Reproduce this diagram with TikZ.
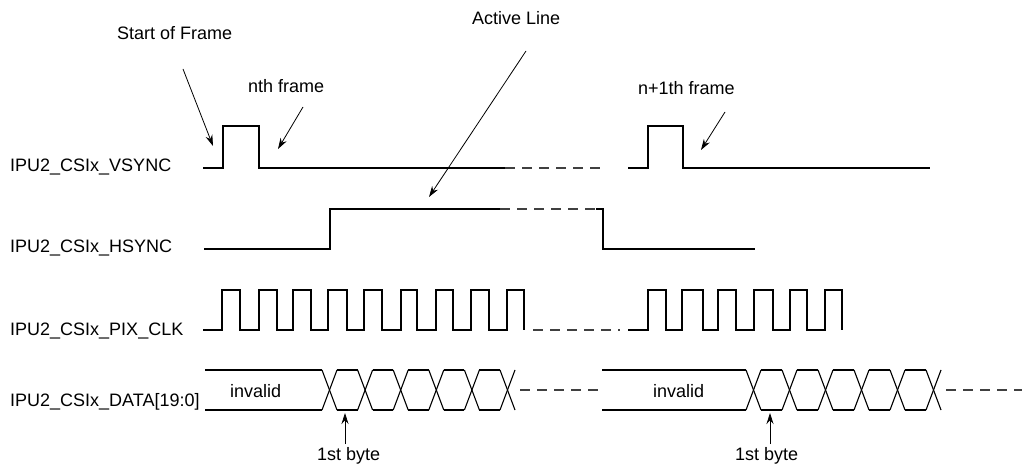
\documentclass[tikz,border=0pt]{standalone}
\usepackage{fontspec}
\setmainfont{Liberation Sans}
\usetikzlibrary{arrows.meta}
\begin{document}
\begin{tikzpicture}[x=1pt,y=-1pt,
  wave/.style={line width=1.1pt,black,line join=miter},
  dashwave/.style={line width=1.1pt,black!75,dash pattern=on 10pt off 7pt},
  pointer/.style={line width=0.8pt,-{Stealth[length=11pt,width=7pt]}},
  lbl/.style={inner sep=0pt,anchor=base west,font=\fontsize{18}{20}\selectfont}]
\useasboundingbox (0,0) rectangle (1023,465);
\clip (0,0) rectangle (1023,465);
% signal labels
\node[lbl] (lv) at (10,172) {IPU2\_CSIx\_VSYNC};
\node[lbl] (lh) at (10,253) {IPU2\_CSIx\_HSYNC};
\node[lbl] (lc) at (10,335) {IPU2\_CSIx\_PIX\_CLK};
\node[lbl] (ld) at (10,406.5) {IPU2\_CSIx\_DATA[19:0]};
% annotations
\node[lbl] (sof) at (117,39.3) {Start of Frame};
\node[lbl] (nth) at (248,92.3) {nth frame};
\node[lbl] (act) at (472,25) {Active Line};
\node[lbl] (n1) at (638,95) {n+1th frame};
\node[lbl] (inv1) at (230,397) {invalid};
\node[lbl] (inv2) at (653,397) {invalid};
\node[lbl] (b1) at (317,460.5) {1st byte};
\node[lbl] (b2) at (735,460.5) {1st byte};
% VSYNC
\draw[wave] (203,168) -- (223,168) -- (223,126) -- (259,126) -- (259,168) -- (505,168);
\draw[dashwave] (505,168) -- (600,168);
\draw[wave] (628,168) -- (648,168) -- (648,126) -- (683,126) -- (683,168) -- (930,168);
% HSYNC
\draw[wave] (204,249) -- (330,249) -- (330,209) -- (500,209);
\draw[dashwave] (500,209) -- (596,209);
\draw[wave] (596,209) -- (603,209) -- (603,249) -- (755,249);
% PIX_CLK
\draw[wave] (203,330)
  \foreach \r/\f in {222/240,259/277,293/311,328/347,364/382,401/417,436/453,471/489,507/524}
  { -- (\r,330) -- (\r,290) -- (\f,290) -- (\f,330) };
\draw[dashwave] (533,330) -- (620,330);
\draw[wave] (628,330)
  \foreach \r/\f in {648/666,682/703,718/736,754/773,790/807,825/842}
  { -- (\r,330) -- (\r,290) -- (\f,290) -- (\f,330) };
% DATA first frame
\draw[wave] (205,370) -- (322,370);
\draw[wave] (205,410) -- (322,410);
\foreach \k in {0,...,5}{
  \pgfmathsetmacro{\c}{329.5+35.6*\k}
  \draw[wave] (\c-7.5,370) -- (\c+7.5,410);
  \draw[wave] (\c-7.5,410) -- (\c+7.5,370);
}
\foreach \k in {0,...,4}{
  \pgfmathsetmacro{\c}{329.5+35.6*\k}
  \draw[wave] (\c+7.5,370) -- (\c+28.1,370);
  \draw[wave] (\c+7.5,410) -- (\c+28.1,410);
}
\draw[dashwave] (520,390) -- (600,390);
% DATA second frame
\draw[wave] (602,370) -- (746,370);
\draw[wave] (602,410) -- (746,410);
\foreach \k in {0,...,5}{
  \pgfmathsetmacro{\c}{753.5+36*\k}
  \draw[wave] (\c-7.5,370) -- (\c+7.5,410);
  \draw[wave] (\c-7.5,410) -- (\c+7.5,370);
}
\foreach \k in {0,...,4}{
  \pgfmathsetmacro{\c}{753.5+36*\k}
  \draw[wave] (\c+7.5,370) -- (\c+28.5,370);
  \draw[wave] (\c+7.5,410) -- (\c+28.5,410);
}
\draw[dashwave] (946,390) -- (1022,390);
% pointer coordinates
\coordinate (sofT) at (183,69);  \coordinate (sofH) at (213,146);
\coordinate (nthT) at (303,107); \coordinate (nthH) at (278,149);
\coordinate (actT) at (526,51);  \coordinate (actH) at (429,197);
\coordinate (n1T) at (725,112);  \coordinate (n1H) at (701,150);
\coordinate (b1T) at (345,444);  \coordinate (b1H) at (345,413);
\coordinate (b2T) at (770,444);  \coordinate (b2H) at (770,413);
\draw[pointer] (sofT) -- (sofH);
\draw[pointer] (nthT) -- (nthH);
\draw[pointer] (actT) -- (actH);
\draw[pointer] (n1T) -- (n1H);
\draw[pointer] (b1T) -- (b1H);
\draw[pointer] (b2T) -- (b2H);
\end{tikzpicture}
\end{document}
